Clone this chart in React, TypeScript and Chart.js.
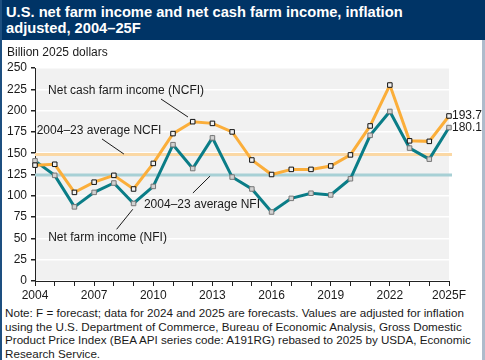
import React, { useEffect, useRef } from "react";
import { Chart, registerables } from "chart.js";

Chart.register(...registerables);

const years = [
  "2004", "2005", "2006", "2007", "2008", "2009", "2010", "2011", "2012", "2013", "2014",
  "2015", "2016", "2017", "2018", "2019", "2020", "2021", "2022", "2023", "2024", "2025F",
];
const ncfi = [136, 137, 104, 116, 124, 108, 138, 173, 187, 185, 175, 142, 125, 131, 131, 135, 148, 182, 230, 164.5, 163.9, 193.7];
const nfi = [141, 124, 87, 104, 115, 91, 111, 160, 132, 168, 122, 108, 81, 97, 103, 101, 120, 171, 199, 156, 143, 180.1];
const avgNCFI = 148.6;
const avgNFI = 124.5;
const yTicks = [0, 25, 50, 75, 100, 125, 150, 175, 200, 225, 250];

const ORANGE = "#FBAE3A";
const TEAL = "#0A7D87";
const ORANGE_AVG = "#FBD8A4";
const TEAL_AVG = "#A7D0D5";
const FONT = "Liberation Sans, Arial, sans-serif";

// annotation labels: center (x index, y value) and leader line in data units
const annotations = [
  { text: "Net cash farm income (NCFI)", x: 4.62, y: 223.4, line: [6.39, 213.6, 7.76, 192.5] },
  { text: "2004\u201323 average NCFI", x: 3.25, y: 176.4, line: [3.4, 166.7, 4.51, 149] },
  { text: "2004\u201323 average NFI", x: 8.47, y: 89.2, line: [8.01, 103.3, 8.88, 123.2] },
  { text: "Net farm income (NFI)", x: 3.68, y: 50.5, line: [4.14, 60.7, 4.96, 84.2] },
];

const overlayPlugin = {
  id: "overlay",
  beforeDraw(chart: any) {
    const { ctx, chartArea } = chart;
    ctx.save();
    ctx.fillStyle = "#F1F1F1";
    ctx.fillRect(chartArea.left, chartArea.top, chartArea.right - chartArea.left, chartArea.bottom - chartArea.top);
    ctx.restore();
  },
  beforeDatasetsDraw(chart: any) {
    const { ctx, chartArea, scales } = chart;
    const y = scales.y;
    ctx.save();
    ctx.lineWidth = 3;
    ctx.strokeStyle = ORANGE_AVG;
    const y1 = y.getPixelForValue(avgNCFI);
    ctx.beginPath();
    ctx.moveTo(chartArea.left, y1);
    ctx.lineTo(chartArea.right + 3, y1);
    ctx.stroke();
    ctx.strokeStyle = TEAL_AVG;
    const y2 = y.getPixelForValue(avgNFI);
    ctx.beginPath();
    ctx.moveTo(chartArea.left, y2);
    ctx.lineTo(chartArea.right + 3, y2);
    ctx.stroke();
    ctx.restore();
  },
  afterDatasetsDraw(chart: any) {
    const { ctx, scales } = chart;
    const xs = scales.x;
    const ys = scales.y;
    const px = (i: number) => xs.left + (i / (years.length - 1)) * (xs.right - xs.left);
    ctx.save();
    ctx.font = `12px ${FONT}`;
    ctx.fillStyle = "#1a1a1a";
    ctx.textBaseline = "middle";
    ctx.textAlign = "center";
    ctx.strokeStyle = "#1a1a1a";
    ctx.lineWidth = 1;
    for (const a of annotations) {
      ctx.fillText(a.text, px(a.x), ys.getPixelForValue(a.y));
      ctx.beginPath();
      ctx.moveTo(px(a.line[0]), ys.getPixelForValue(a.line[1]));
      ctx.lineTo(px(a.line[2]), ys.getPixelForValue(a.line[3]));
      ctx.stroke();
    }
    // end labels
    ctx.textAlign = "left";
    const last = years.length - 1;
    [0, 1].forEach((di) => {
      const meta = chart.getDatasetMeta(di);
      const pt = meta.data[last];
      const v = chart.data.datasets[di].data[last];
      ctx.fillText(v.toFixed(1), pt.x + 3, pt.y);
    });
    ctx.restore();
  },
};

function FarmChart() {
  const ref = useRef<HTMLCanvasElement>(null);
  useEffect(() => {
    const chart = new Chart(ref.current as HTMLCanvasElement, {
      type: "line",
      data: {
        labels: years,
        datasets: [
          {
            label: "Net cash farm income (NCFI)",
            data: ncfi,
            borderColor: ORANGE,
            borderWidth: 3,
            tension: 0,
            pointStyle: "rect",
            pointRadius: 3.2,
            pointBorderWidth: 1,
            pointBorderColor: "#111",
            pointBackgroundColor: "#F2F2F2",
          },
          {
            label: "Net farm income (NFI)",
            data: nfi,
            borderColor: TEAL,
            borderWidth: 3,
            tension: 0,
            pointStyle: "rect",
            pointRadius: 3.2,
            pointBorderWidth: 1,
            pointBorderColor: "#777",
            pointBackgroundColor: "#D2D2D2",
          },
        ],
      },
      options: {
        responsive: false,
        animation: false,
        devicePixelRatio: 1,
        layout: { padding: { left: 0, top: 28, right: 36, bottom: 0 } },
        plugins: { legend: { display: false }, tooltip: { enabled: false } },
        scales: {
          x: {
            type: "category",
            offset: false,
            afterFit: (s: any) => { s.height = 19; },
            grid: { drawOnChartArea: false, drawTicks: true, tickLength: 5, tickColor: "#222", color: "#222" },
            border: { display: true, color: "#222", width: 1 },
            ticks: {
              autoSkip: false,
              maxRotation: 0,
              padding: 2,
              color: "#1a1a1a",
              font: { family: FONT, size: 12 },
              callback: (_v: any, i: number) => (i % 3 === 0 ? years[i] : ""),
            },
          },
          y: {
            min: 0,
            max: 250,
            afterFit: (s: any) => { s.width = 35; },
            afterBuildTicks: (s: any) => { s.ticks = yTicks.map((v) => ({ value: v })); },
            grid: { color: "#FFFFFF", lineWidth: 1.5, tickColor: "#222", tickLength: 4 },
            border: { display: true, color: "#222", width: 1 },
            ticks: {
              padding: 4,
              color: "#1a1a1a",
              font: { family: FONT, size: 12 },
            },
          },
        },
      },
      plugins: [overlayPlugin],
    } as any);
    return () => chart.destroy();
  }, []);
  return <canvas ref={ref} width={485} height={260} style={{ position: "absolute", left: 0, top: 40, width: 485, height: 260 }} />;
}

export default function App() {
  useEffect(() => {
    document.documentElement.style.overflow = "hidden";
    document.body.style.overflow = "hidden";
    document.body.style.margin = "0";
  }, []);
  return (
    <div
      style={{
        position: "fixed",
        left: 0,
        top: 0,
        width: 485,
        height: 360,
        background: "#fff",
        overflow: "hidden",
        fontFamily: FONT,
      }}
    >
      <div
        style={{
          position: "absolute",
          left: 0,
          top: 0,
          width: 485,
          height: 40,
          background: "#003466",
          color: "#fff",
          fontWeight: "bold",
          fontSize: 14.7,
          lineHeight: "16px",
          padding: "4px 0 0 6px",
          boxSizing: "border-box",
        }}
      >
        U.S. net farm income and net cash farm income, inflation
        <br />
        adjusted, 2004–25F
      </div>
      <FarmChart />
      <div style={{ position: "absolute", left: 7, top: 45, fontSize: 12, color: "#1a1a1a" }}>Billion 2025 dollars</div>
      <div
        style={{
          position: "absolute",
          left: 5,
          top: 306,
          fontSize: 11.65,
          lineHeight: "13.6px",
          color: "#1a1a1a",
          whiteSpace: "nowrap",
        }}
      >
        Note: F = forecast; data for 2024 and 2025 are forecasts. Values are adjusted for inflation
        <br />
        using the U.S. Department of Commerce, Bureau of Economic Analysis, Gross Domestic
        <br />
        Product Price Index (BEA API series code: A191RG) rebased to 2025 by USDA, Economic
        <br />
        Research Service.
      </div>
      <div style={{ position: "absolute", left: 0, top: 0, width: 2, height: 360, background: "#1d4f80" }} />
      <div style={{ position: "absolute", right: 0, top: 40, width: 3, height: 320, background: "#AEBBCB" }} />
    </div>
  );
}
